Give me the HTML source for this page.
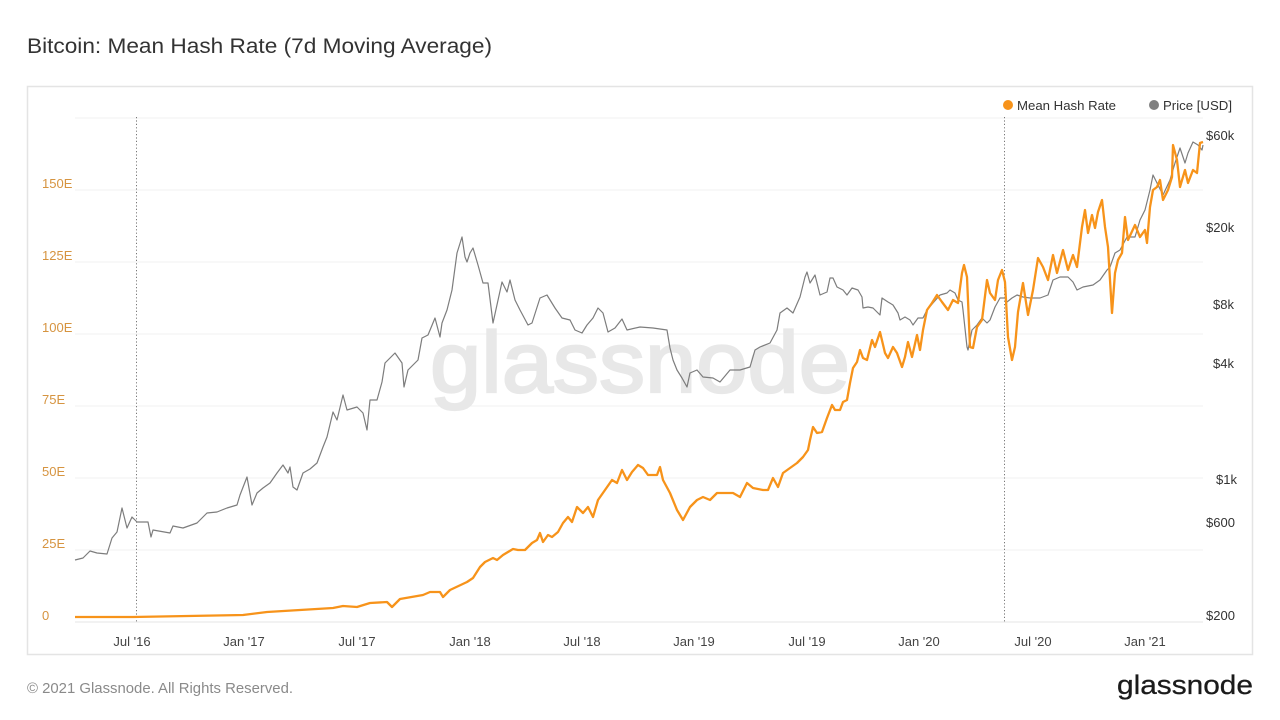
<!DOCTYPE html>
<html>
<head>
<meta charset="utf-8">
<style>
html,body{margin:0;padding:0;background:#fff;}
svg{display:block;}
text{font-family:"Liberation Sans",Arial,sans-serif;}
</style>
</head>
<body>
<svg width="1280" height="720" viewBox="0 0 1280 720" xmlns="http://www.w3.org/2000/svg">
<rect x="0" y="0" width="1280" height="720" fill="#fff"/>
<!-- title -->
<text x="27" y="53" font-size="21" fill="#333" textLength="465" lengthAdjust="spacingAndGlyphs">Bitcoin: Mean Hash Rate (7d Moving Average)</text>
<!-- chart box -->
<rect x="27.5" y="86.5" width="1225" height="568" fill="#fff" stroke="#e4e4e4" stroke-width="1.5"/>
<!-- gridlines -->
<g stroke="#f2f2f2" stroke-width="1">
<line x1="75" y1="118" x2="1203" y2="118"/>
<line x1="75" y1="190" x2="1203" y2="190"/>
<line x1="75" y1="262" x2="1203" y2="262"/>
<line x1="75" y1="334" x2="1203" y2="334"/>
<line x1="75" y1="406" x2="1203" y2="406"/>
<line x1="75" y1="478" x2="1203" y2="478"/>
<line x1="75" y1="550" x2="1203" y2="550"/>
</g>
<line x1="75" y1="622" x2="1203" y2="622" stroke="#e6e6e6" stroke-width="1"/>
<!-- watermark -->
<text x="430" y="392" font-size="86" fill="#e8e8e8" stroke="#e8e8e8" stroke-width="2.2" textLength="420" lengthAdjust="spacingAndGlyphs">glassnode</text>
<!-- halving lines -->
<line x1="136.5" y1="117" x2="136.5" y2="622" stroke="#777" stroke-width="1" stroke-dasharray="1.2,2.2"/>
<line x1="1004.5" y1="117" x2="1004.5" y2="622" stroke="#777" stroke-width="1" stroke-dasharray="1.2,2.2"/>
<!-- left axis labels -->
<g font-size="13" fill="#d69440">
<text x="42" y="188">150E</text>
<text x="42" y="260">125E</text>
<text x="42" y="332">100E</text>
<text x="42" y="404">75E</text>
<text x="42" y="476">50E</text>
<text x="42" y="548">25E</text>
<text x="42" y="620">0</text>
</g>
<!-- right axis labels -->
<g font-size="13" fill="#333">
<text x="1206" y="140">$60k</text>
<text x="1206" y="232">$20k</text>
<text x="1213" y="309">$8k</text>
<text x="1213" y="368">$4k</text>
<text x="1216" y="484">$1k</text>
<text x="1206" y="527">$600</text>
<text x="1206" y="620">$200</text>
</g>
<!-- x axis labels -->
<g font-size="13" fill="#444" text-anchor="middle">
<text x="132" y="646">Jul '16</text>
<text x="244" y="646">Jan '17</text>
<text x="357" y="646">Jul '17</text>
<text x="470" y="646">Jan '18</text>
<text x="582" y="646">Jul '18</text>
<text x="694" y="646">Jan '19</text>
<text x="807" y="646">Jul '19</text>
<text x="919" y="646">Jan '20</text>
<text x="1033" y="646">Jul '20</text>
<text x="1145" y="646">Jan '21</text>
</g>
<!-- legend -->
<circle cx="1008" cy="105" r="5" fill="#f7931a"/>
<text x="1017" y="110" font-size="13" fill="#333" textLength="99" lengthAdjust="spacingAndGlyphs">Mean Hash Rate</text>
<circle cx="1154" cy="105" r="5" fill="#808080"/>
<text x="1163" y="110" font-size="13" fill="#333" textLength="69" lengthAdjust="spacingAndGlyphs">Price [USD]</text>
<!-- price series -->
<polyline fill="none" stroke="#7d7d7d" stroke-width="1.2" stroke-linejoin="round" points="75,560 83,558 90,551 97,553 107,554 112,538 117,532 122,508 125,520 127,528 132,517 137,522 148,522 151,537 153,530 170,533 173,526 183,528 197,523 207,513 217,512 227,508 237,505 240,495 247,477 252,505 257,493 263,488 270,483 277,473 283,465 288,473 290,467 293,487 297,490 303,473 310,469 317,463 323,447 327,437 333,412 337,420 343,395 347,410 357,407 363,413 367,430 370,400 377,400 382,382 385,363 395,353 402,363 404,387 408,370 418,360 422,338 428,335 435,318 440,337 442,323 447,310 452,290 457,253 462,237 465,257 467,262 470,253 473,248 478,265 483,283 488,283 493,323 502,282 507,292 510,280 515,300 520,310 528,325 532,323 540,298 547,295 555,308 562,318 570,320 575,330 582,333 587,325 593,318 598,308 603,313 608,332 615,328 622,319 627,330 640,327 653,328 667,330 670,348 673,360 677,370 682,378 687,387 690,373 697,370 703,377 713,378 720,382 730,370 740,370 750,367 755,350 760,347 770,343 777,330 780,313 787,308 793,313 800,297 805,277 807,272 810,283 815,275 820,295 827,292 830,278 833,278 837,287 843,290 847,295 852,288 858,290 862,297 863,308 868,307 873,308 880,315 882,298 888,302 893,305 898,313 900,320 905,317 910,320 913,325 918,318 923,318 927,310 933,303 940,295 947,293 950,290 955,293 958,300 962,302 963,310 967,347 968,350 972,330 977,325 982,318 987,323 990,320 995,307 1000,298 1005,298 1007,302 1012,298 1017,295 1023,297 1030,298 1040,298 1048,295 1053,280 1060,277 1068,277 1073,282 1077,290 1083,287 1093,285 1100,280 1107,270 1110,267 1115,253 1120,250 1127,237 1135,237 1140,220 1145,210 1150,190 1153,175 1158,185 1163,195 1170,180 1175,163 1180,148 1185,163 1188,153 1193,142 1198,145 1202,150 1203,145"/>
<!-- hash rate series -->
<polyline fill="none" stroke="#f7931a" stroke-width="2.3" stroke-linejoin="round" points="75,617 133,617 243,615 267,612 333,608 343,606 357,607 370,603 387,602 392,607 400,599 423,595 430,592 440,592 443,597 450,590 467,582 473,578 480,567 485,562 493,558 497,560 503,555 513,549 518,550 525,550 532,543 537,540 540,533 543,542 548,535 552,537 558,532 563,523 568,517 572,522 577,507 583,513 588,507 593,517 598,500 605,490 612,480 617,483 622,470 627,480 632,472 638,465 643,468 648,475 657,475 660,467 663,480 670,493 677,510 683,520 690,507 697,500 703,497 710,500 717,493 727,493 733,493 740,497 747,483 753,488 763,490 768,490 773,478 778,487 783,473 790,468 797,463 803,457 808,450 810,440 813,427 817,433 822,432 827,418 832,405 835,410 840,410 843,402 847,400 850,383 853,368 857,362 860,350 863,358 867,360 872,340 875,347 880,332 885,353 888,358 893,347 897,353 902,367 905,357 908,342 912,357 917,335 920,350 923,330 927,310 932,303 937,295 942,302 948,310 953,300 958,303 962,273 964,265 967,277 970,347 973,348 977,327 982,320 987,280 990,293 995,300 998,280 1002,270 1005,282 1008,337 1012,360 1015,347 1018,312 1023,283 1028,315 1033,290 1038,258 1043,267 1048,280 1053,255 1057,273 1063,250 1068,270 1073,255 1077,267 1082,227 1085,210 1088,233 1092,215 1095,228 1098,212 1102,200 1105,227 1108,247 1112,313 1115,273 1118,260 1122,253 1125,217 1128,240 1135,225 1140,237 1145,230 1147,243 1150,207 1153,190 1157,187 1160,180 1163,200 1168,190 1172,177 1173,145 1177,160 1180,187 1185,170 1188,183 1193,170 1197,173 1200,143 1203,142"/>
<!-- footer -->
<text x="27" y="693" font-size="15" fill="#8a8a8a" textLength="266" lengthAdjust="spacingAndGlyphs">© 2021 Glassnode. All Rights Reserved.</text>
<text x="1117" y="694" font-size="27" fill="#1b1b1b" stroke="#1b1b1b" stroke-width="0.3" textLength="136" lengthAdjust="spacingAndGlyphs">glassnode</text>
</svg>
</body>
</html>
